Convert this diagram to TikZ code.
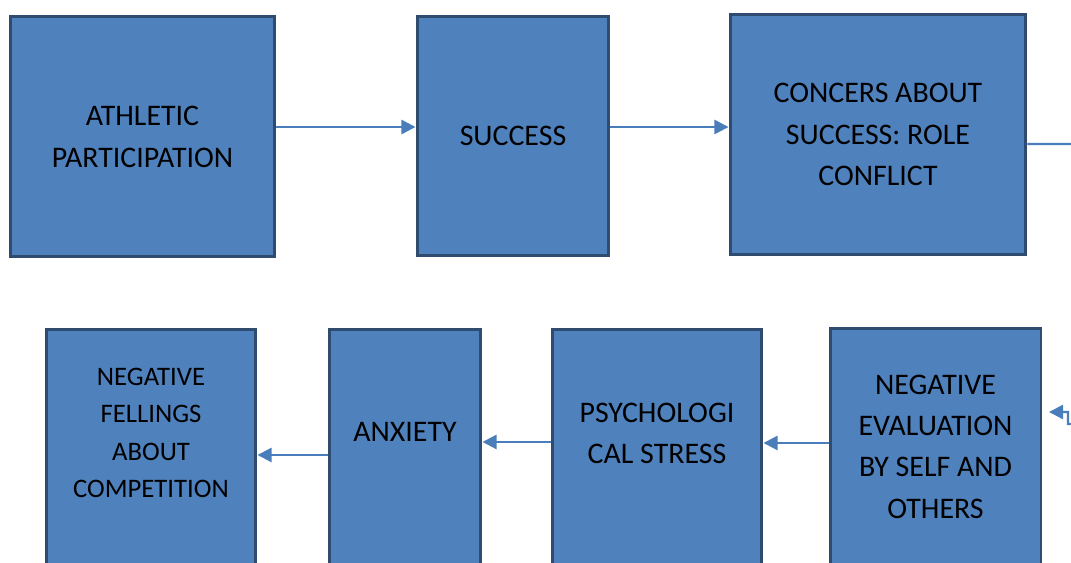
\documentclass[tikz,border=0pt]{standalone}
\usepackage{fontspec}
\setmainfont{Carlito}
\usetikzlibrary{arrows.meta}
\definecolor{boxfill}{HTML}{4F81BD}
\definecolor{boxline}{HTML}{2F4B70}
\definecolor{arrline}{HTML}{4A7EBB}
\begin{document}
\begin{tikzpicture}[
    x=0.02cm, y=-0.02cm,
    box/.style={rectangle, draw=boxline, line width=1.7pt, fill=boxfill, font=\fontsize{17}{23.8}\selectfont, align=center},
    lowbox/.style={box, anchor=north, minimum height=5.6cm},
    txt/.style={font=\fontsize{17}{23.5}\selectfont, align=center},
    arr/.style={-{Triangle[length=8pt, width=8pt]}, draw=arrline, line width=1.3pt}
]
    \useasboundingbox (0,0) rectangle (1071,562);
    \clip (0,0) rectangle (1071,562);

    % top row
    \node[box, minimum width=5.3cm, minimum height=4.82cm] (athl) at (142.5,136.5) {ATHLETIC\\PARTICIPATION};
    \node[box, minimum width=3.84cm, minimum height=4.8cm] (succ) at (513,136) {SUCCESS};
    \node[box, minimum width=5.92cm, minimum height=4.82cm] (conc) at (878,134.5) {CONCERS ABOUT\\SUCCESS: ROLE\\CONFLICT};

    % bottom row
    \node[lowbox, minimum width=4.2cm] (negf) at (151,328) {};
    \node[txt, font=\fontsize{15.2}{21.3}\selectfont] (negf-t) at (151,433) {NEGATIVE\\FELLINGS\\ABOUT\\COMPETITION};
    \node[lowbox, minimum width=3.04cm] (anx) at (405,328) {};
    \node[txt] (anx-t) at (405,432) {ANXIETY};
    \node[lowbox, minimum width=4.2cm] (psy) at (657,328) {};
    \node[txt] (psy-t) at (657,433.5) {PSYCHOLOGI\\CAL STRESS};
    \node[lowbox, minimum width=4.22cm] (neva) at (935.5,327) {};
    \node[txt] (neva-t) at (935.5,446.5) {NEGATIVE\\EVALUATION\\BY SELF AND\\OTHERS};

    % connectors
    \draw[arr] ([yshift=0.19cm]athl.east) -- ([yshift=0.19cm]succ.west |- athl.east);
    \draw[arr] ([yshift=0.18cm]succ.east) -- ([yshift=0.18cm]conc.west |- succ.east);
    \coordinate (tip) at (1049,412);
    \draw[arr] ([yshift=-0.19cm]conc.east) -- (1090,144) -- (1090,424) -- (1068,424) -- (1068,412) -- (tip);
    \draw[arr] ([yshift=-2.32cm]neva.north west) -- ([yshift=-2.3cm]psy.north east);
    \draw[arr] ([yshift=-2.28cm]psy.north west) -- ([yshift=-2.28cm]anx.north east);
    \draw[arr] ([yshift=-2.54cm]anx.north west) -- ([yshift=-2.54cm]negf.north east);
\end{tikzpicture}
\end{document}
